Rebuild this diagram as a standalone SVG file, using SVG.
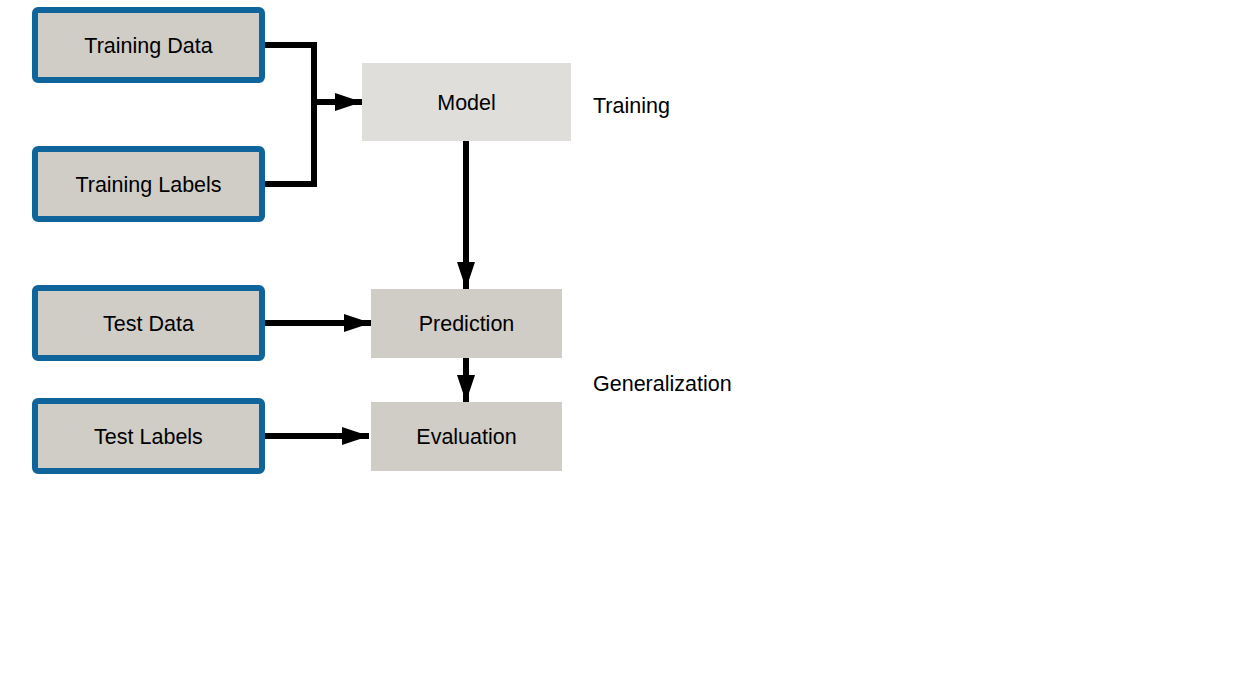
<svg xmlns="http://www.w3.org/2000/svg" width="1245" height="673" viewBox="0 0 1245 673">
<style>
.in{fill:#d0cdc6;stroke:#0f659b;stroke-width:6}
.proc{fill:#d0cdc6}
.model{fill:#dfdedb}
.t{font-family:"Liberation Sans",Arial,sans-serif;font-size:21.5px;fill:#000;text-anchor:middle;dominant-baseline:central}
.lbl{font-family:"Liberation Sans",Arial,sans-serif;font-size:21.5px;fill:#000}
.c{fill:none;stroke:#000;stroke-width:6}
</style>
<defs>
<marker id="ah" markerUnits="userSpaceOnUse" markerWidth="28" markerHeight="20" refX="27" refY="10" orient="auto">
<path d="M0,1 L27,10 L0,19 Z" fill="#000"/>
</marker>
</defs>
<rect width="1245" height="673" fill="#fff"/>
<g id="connectors">
<path class="c" d="M262,45 H314 V184 H262"/>
<path class="c" d="M314,102 H362" marker-end="url(#ah)"/>
<path class="c" d="M466,141 V289" marker-end="url(#ah)"/>
<path class="c" d="M466,358 V402" marker-end="url(#ah)"/>
<path class="c" d="M262,323 H371" marker-end="url(#ah)"/>
<path class="c" d="M262,436 H369" marker-end="url(#ah)"/>
</g>
<g id="training-data"><rect class="in" x="35" y="10" width="227" height="70" rx="3"/><text class="t" x="148.5" y="46">Training Data</text></g>
<g id="training-labels"><rect class="in" x="35" y="149" width="227" height="70" rx="3"/><text class="t" x="148.5" y="185">Training Labels</text></g>
<g id="test-data"><rect class="in" x="35" y="288" width="227" height="70" rx="3"/><text class="t" x="148.5" y="324">Test Data</text></g>
<g id="test-labels"><rect class="in" x="35" y="401" width="227" height="70" rx="3"/><text class="t" x="148.5" y="437">Test Labels</text></g>
<g id="model"><rect class="model" x="362" y="63" width="209" height="78"/><text class="t" x="466.5" y="103">Model</text></g>
<g id="prediction"><rect class="proc" x="371" y="289" width="191" height="69"/><text class="t" x="466.5" y="324">Prediction</text></g>
<g id="evaluation"><rect class="proc" x="371" y="402" width="191" height="69"/><text class="t" x="466.5" y="437">Evaluation</text></g>
<g id="label-training"><text class="lbl" x="593" y="113">Training</text></g>
<g id="label-generalization"><text class="lbl" x="593" y="391">Generalization</text></g>
</svg>
